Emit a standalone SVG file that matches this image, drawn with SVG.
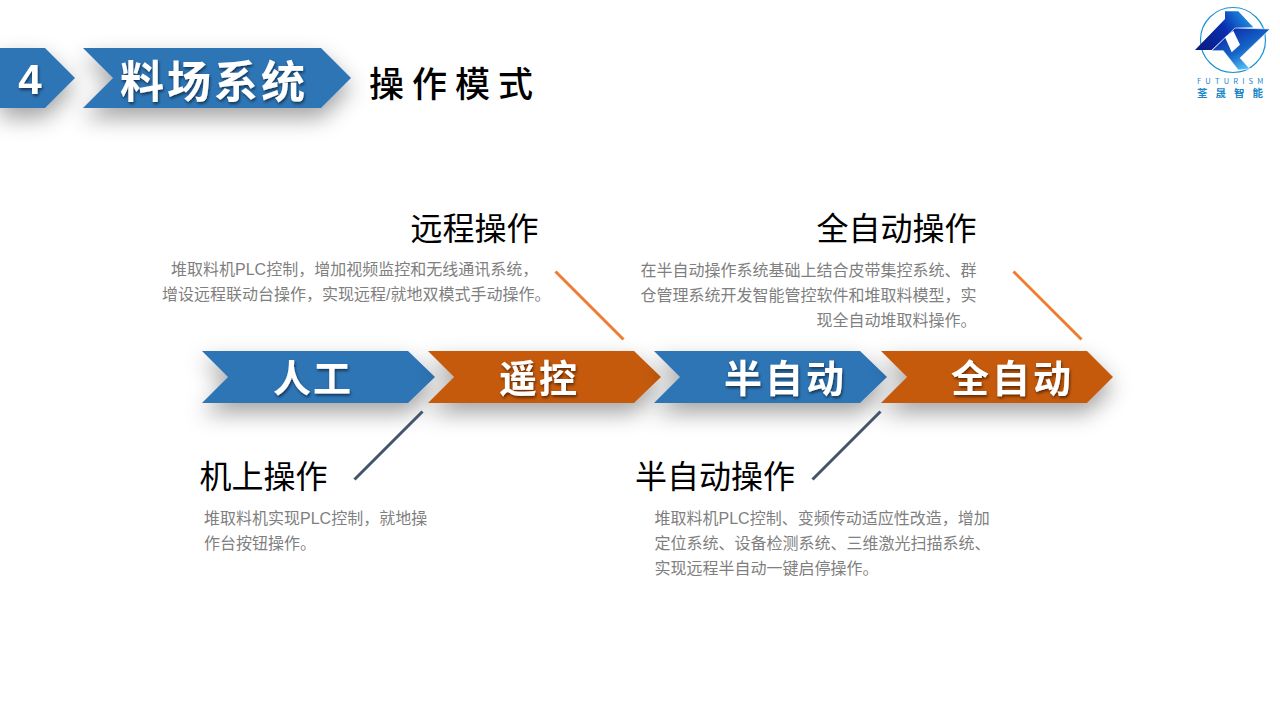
<svg xmlns="http://www.w3.org/2000/svg" width="1280" height="720" viewBox="0 0 1280 720">
<style>
.cn{font-family:"Noto Sans CJK SC","Liberation Sans",sans-serif}
.h{font-size:32px;fill:#000;font-family:"Liberation Sans","Noto Sans CJK SC",sans-serif}
.d{font-size:16px;fill:#7f7f7f;font-family:"Liberation Sans","Noto Sans CJK SC",sans-serif}
.b{fill:#2e75b6}.o{fill:#c55a11}
.w{fill:#fff;font-weight:700;text-anchor:middle;font-family:"Noto Sans CJK SC","Liberation Sans",sans-serif;filter:url(#ts)}
.l{stroke-width:3;fill:none}
</style>
<defs>
<filter id="sh" x="-30%" y="-80%" width="160%" height="300%"><feDropShadow dx="0" dy="10" stdDeviation="11" flood-color="#000" flood-opacity=".36"/></filter>
<filter id="ts" x="-10%" y="-20%" width="120%" height="140%"><feDropShadow dx="1" dy="2" stdDeviation="1.8" flood-color="#000" flood-opacity=".55"/></filter>
<linearGradient id="g1" gradientUnits="userSpaceOnUse" x1="1197" y1="50" x2="1250" y2="14"><stop offset="0" stop-color="#0a1a80"/><stop offset=".55" stop-color="#0a2fb0"/><stop offset="1" stop-color="#1f9be8"/></linearGradient>
<linearGradient id="g2" gradientUnits="userSpaceOnUse" x1="1225" y1="30" x2="1248" y2="70"><stop offset="0" stop-color="#0a2aa8"/><stop offset=".55" stop-color="#1565c8"/><stop offset="1" stop-color="#5cc8f7"/></linearGradient>
</defs>
<rect width="1280" height="720" fill="#fff"/>
<g id="header-number"><polygon class="b" filter="url(#sh)" points="0,48 45,48 75,78 45,108 0,108"/><text x="30" y="94" class="w" style="font-family:'Liberation Sans',sans-serif" font-size="42">4</text></g>
<g id="header-title"><polygon class="b" filter="url(#sh)" points="83,48 321,48 351,78 321,108 83,108 113,78"/><text x="214" y="98" class="w" font-size="44" letter-spacing="3">料场系统</text></g>
<g id="subtitle"><text x="369" y="97" class="cn" font-size="35" font-weight="500" letter-spacing="8">操作模式</text></g>
<g id="logo">
<circle cx="1233" cy="40" r="32.5" fill="#fff" stroke="#1d93d6" stroke-width="1.2"/>
<polygon fill="url(#g1)" points="1195,50 1225,19 1225,11.3 1238.3,11.3 1253.3,27.3 1235,28 1211.7,50"/>
<polygon fill="url(#g2)" stroke="#fff" stroke-width=".6" points="1211.7,50.7 1235,28 1270,29 1240,58 1250,69 1238.3,70 1223.3,50.7"/>
<polygon fill="#fff" points="1225,37.3 1233.3,30.7 1240,44.7 1231.7,52.3"/>
<text x="1197" y="84" class="cn" font-size="7.5" fill="#1b87c9" letter-spacing="4.2">FUTURISM</text>
<text x="1197" y="97" class="cn" font-size="10.5" font-weight="700" fill="#1b87c9" letter-spacing="8">荃晟智能</text>
</g>
<g id="step-1"><polygon class="b" filter="url(#sh)" points="202,351 408,351 435,377 408,403 202,403 228,377"/><text x="313" y="392" class="w" font-size="38" letter-spacing="2">人工</text></g>
<g id="step-2"><polygon class="o" filter="url(#sh)" points="428,351 634,351 661,377 634,403 428,403 454,377"/><text x="539" y="392" class="w" font-size="38" letter-spacing="2">遥控</text></g>
<g id="step-3"><polygon class="b" filter="url(#sh)" points="654,351 860,351 887,377 860,403 654,403 680,377"/><text x="785.5" y="392" class="w" font-size="38" letter-spacing="3">半自动</text></g>
<g id="step-4"><polygon class="o" filter="url(#sh)" points="881,351 1087,351 1113,377 1087,403 881,403 907,377"/><text x="1012.5" y="392" class="w" font-size="38" letter-spacing="3">全自动</text></g>
<g id="connectors">
<line class="l" stroke="#ed7d31" x1="555.5" y1="271.5" x2="623.5" y2="339.5"/>
<line class="l" stroke="#ed7d31" x1="1013.5" y1="271.5" x2="1081.5" y2="339.5"/>
<line class="l" stroke="#44546a" x1="422.5" y1="411.5" x2="354.5" y2="479.5"/>
<line class="l" stroke="#44546a" x1="880.5" y1="411.5" x2="812.5" y2="479.5"/>
</g>
<g id="note-remote">
<text class="h" x="410.5" y="240">远程操作</text>
<text class="d" x="171" y="275">堆取料机PLC控制，增加视频监控和无线通讯系统，</text>
<text class="d" x="162" y="300">增设远程联动台操作，实现远程/就地双模式手动操作。</text>
</g>
<g id="note-auto">
<text class="h" x="816.5" y="240">全自动操作</text>
<text class="d" x="976.5" y="276" text-anchor="end">在半自动操作系统基础上结合皮带集控系统、群</text>
<text class="d" x="976.5" y="301" text-anchor="end">仓管理系统开发智能管控软件和堆取料模型，实</text>
<text class="d" x="976.5" y="326" text-anchor="end">现全自动堆取料操作。</text>
</g>
<g id="note-manual">
<text class="h" x="199.5" y="488">机上操作</text>
<text class="d" x="204" y="524">堆取料机实现PLC控制，就地操</text>
<text class="d" x="204" y="549">作台按钮操作。</text>
</g>
<g id="note-semi">
<text class="h" x="635" y="488">半自动操作</text>
<text class="d" x="654.5" y="524">堆取料机PLC控制、变频传动适应性改造，增加</text>
<text class="d" x="654.5" y="549">定位系统、设备检测系统、三维激光扫描系统、</text>
<text class="d" x="654.5" y="574">实现远程半自动一键启停操作。</text>
</g>
</svg>
